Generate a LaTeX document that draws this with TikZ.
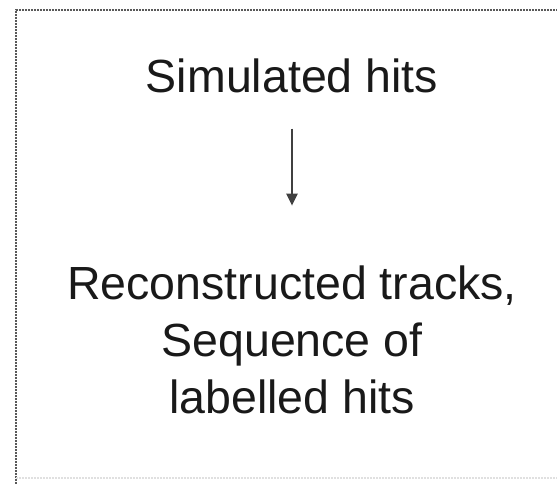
\documentclass[tikz,border=0pt]{standalone}
\usepackage{fontspec}
\setmainfont{Liberation Sans}
\usetikzlibrary{arrows.meta,positioning}

\begin{document}
\begin{tikzpicture}[x=1pt, y=1pt]
\tikzset{
  txt/.style  ={inner sep=0pt, align=center, text=black!90,
                font=\fontsize{46.5}{57}\selectfont},
  frame/.style={draw=black!65, line width=1.8pt, dash pattern=on 1.6pt off 1.4pt},
  aF/.style   ={-{Triangle[length=12pt,width=11pt]}, line width=2.2pt, draw=black!75}
}
\useasboundingbox (0,0) rectangle (557,-484);
% dotted frame, cut off at the right and bottom
\draw[frame] (16,-484) -- (16,-10) -- (557,-10);
\draw[frame, draw=black!12] (16,-478) -- (557,-478);
\node (sim)[txt, anchor=base] at (292,-93) {Simulated hits};
\node (reco)[txt, below=172pt of sim] {Reconstructed tracks,\\Sequence of\\labelled hits};
\draw[aF, shorten <=35pt, shorten >=60pt] (sim.south) -- (reco.north);
\end{tikzpicture}
\end{document}
